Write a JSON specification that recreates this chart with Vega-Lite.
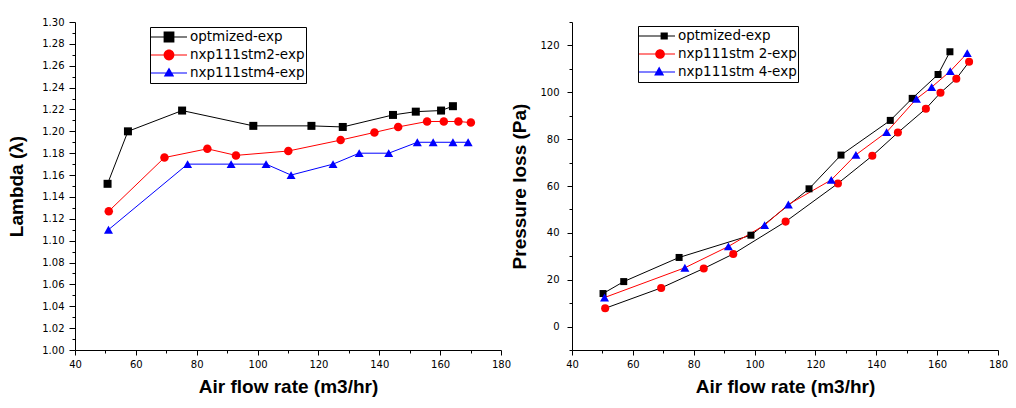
{
  "$schema": "https://vega.github.io/schema/vega-lite/v6.json",
  "padding": {"left": 7, "top": 17, "right": 5, "bottom": 5},
  "spacing": 71,
  "bounds": "flush",
  "datasets": {
    "lambda": [
      {"series": "optmized-exp", "x": 50.7, "y": 1.152},
      {"series": "optmized-exp", "x": 57.4, "y": 1.200},
      {"series": "optmized-exp", "x": 75.2, "y": 1.219},
      {"series": "optmized-exp", "x": 98.6, "y": 1.205},
      {"series": "optmized-exp", "x": 117.7, "y": 1.205},
      {"series": "optmized-exp", "x": 128.0, "y": 1.204},
      {"series": "optmized-exp", "x": 144.5, "y": 1.215},
      {"series": "optmized-exp", "x": 152.0, "y": 1.218},
      {"series": "optmized-exp", "x": 160.3, "y": 1.219},
      {"series": "optmized-exp", "x": 164.2, "y": 1.223},
      {"series": "nxp111stm2-exp", "x": 51.1, "y": 1.127},
      {"series": "nxp111stm2-exp", "x": 69.4, "y": 1.176},
      {"series": "nxp111stm2-exp", "x": 83.5, "y": 1.184},
      {"series": "nxp111stm2-exp", "x": 92.9, "y": 1.178},
      {"series": "nxp111stm2-exp", "x": 110.1, "y": 1.182},
      {"series": "nxp111stm2-exp", "x": 127.3, "y": 1.192},
      {"series": "nxp111stm2-exp", "x": 138.4, "y": 1.199},
      {"series": "nxp111stm2-exp", "x": 146.2, "y": 1.204},
      {"series": "nxp111stm2-exp", "x": 155.7, "y": 1.209},
      {"series": "nxp111stm2-exp", "x": 161.2, "y": 1.209},
      {"series": "nxp111stm2-exp", "x": 166.0, "y": 1.209},
      {"series": "nxp111stm2-exp", "x": 170.1, "y": 1.208},
      {"series": "nxp111stm4-exp", "x": 51.0, "y": 1.110},
      {"series": "nxp111stm4-exp", "x": 77.0, "y": 1.170},
      {"series": "nxp111stm4-exp", "x": 91.3, "y": 1.170},
      {"series": "nxp111stm4-exp", "x": 102.8, "y": 1.170},
      {"series": "nxp111stm4-exp", "x": 111.0, "y": 1.160},
      {"series": "nxp111stm4-exp", "x": 124.8, "y": 1.170},
      {"series": "nxp111stm4-exp", "x": 133.4, "y": 1.180},
      {"series": "nxp111stm4-exp", "x": 143.1, "y": 1.180},
      {"series": "nxp111stm4-exp", "x": 152.5, "y": 1.190},
      {"series": "nxp111stm4-exp", "x": 157.7, "y": 1.190},
      {"series": "nxp111stm4-exp", "x": 164.2, "y": 1.190},
      {"series": "nxp111stm4-exp", "x": 169.2, "y": 1.190}
    ],
    "pressure": [
      {"series": "optmized-exp", "x": 50.2, "y": 14.1},
      {"series": "optmized-exp", "x": 57.0, "y": 19.2},
      {"series": "optmized-exp", "x": 75.2, "y": 29.5},
      {"series": "optmized-exp", "x": 98.8, "y": 39.0},
      {"series": "optmized-exp", "x": 117.9, "y": 58.8},
      {"series": "optmized-exp", "x": 128.4, "y": 73.2},
      {"series": "optmized-exp", "x": 144.6, "y": 88.0},
      {"series": "optmized-exp", "x": 151.8, "y": 97.4},
      {"series": "optmized-exp", "x": 160.3, "y": 107.6},
      {"series": "optmized-exp", "x": 164.2, "y": 117.3},
      {"series": "nxp111stm 2-exp", "x": 50.9, "y": 7.8},
      {"series": "nxp111stm 2-exp", "x": 69.3, "y": 16.5},
      {"series": "nxp111stm 2-exp", "x": 83.3, "y": 24.8},
      {"series": "nxp111stm 2-exp", "x": 93.0, "y": 31.0},
      {"series": "nxp111stm 2-exp", "x": 110.2, "y": 44.8},
      {"series": "nxp111stm 2-exp", "x": 127.4, "y": 61.1},
      {"series": "nxp111stm 2-exp", "x": 138.7, "y": 72.9},
      {"series": "nxp111stm 2-exp", "x": 147.1, "y": 82.8},
      {"series": "nxp111stm 2-exp", "x": 156.3, "y": 93.0},
      {"series": "nxp111stm 2-exp", "x": 161.1, "y": 99.8},
      {"series": "nxp111stm 2-exp", "x": 166.3, "y": 105.8},
      {"series": "nxp111stm 2-exp", "x": 170.5, "y": 113.0},
      {"series": "nxp111stm 4-exp", "x": 50.7, "y": 12.4},
      {"series": "nxp111stm 4-exp", "x": 77.1, "y": 25.1},
      {"series": "nxp111stm 4-exp", "x": 91.4, "y": 34.2},
      {"series": "nxp111stm 4-exp", "x": 103.3, "y": 43.3},
      {"series": "nxp111stm 4-exp", "x": 111.1, "y": 52.1},
      {"series": "nxp111stm 4-exp", "x": 125.2, "y": 62.6},
      {"series": "nxp111stm 4-exp", "x": 133.3, "y": 73.3},
      {"series": "nxp111stm 4-exp", "x": 143.4, "y": 83.0},
      {"series": "nxp111stm 4-exp", "x": 153.2, "y": 97.2},
      {"series": "nxp111stm 4-exp", "x": 158.2, "y": 102.2},
      {"series": "nxp111stm 4-exp", "x": 164.3, "y": 109.0},
      {"series": "nxp111stm 4-exp", "x": 169.9, "y": 116.7}
    ]
  },
  "hconcat": [
    {
      "width": 426,
      "height": 328,
      "data": {"name": "lambda"},
      "encoding": {
        "x": {"field": "x", "type": "quantitative",
          "scale": {"domain": [40, 180], "nice": false, "zero": false},
          "axis": {"title": "Air flow rate (m3/hr)",
            "values": [40, 50, 60, 70, 80, 90, 100, 110, 120, 130, 140, 150, 160, 170, 180],
            "labelExpr": "datum.value % 20 == 0 ? datum.label : ''",
            "tickSize": {"condition": {"test": "datum.value % 20 == 0", "value": 5}, "value": 3},
            "labelPadding": 4, "titlePadding": 8, "labelOverlap": false, "labelFlush": false}},
        "y": {"field": "y", "type": "quantitative",
          "scale": {"domain": [1.0, 1.3], "nice": false, "zero": false},
          "axis": {"title": "Lambda (λ)", "format": ".2f",
            "values": [1.00, 1.01, 1.02, 1.03, 1.04, 1.05, 1.06, 1.07, 1.08, 1.09, 1.10, 1.11, 1.12, 1.13, 1.14, 1.15, 1.16, 1.17, 1.18, 1.19, 1.20, 1.21, 1.22, 1.23, 1.24, 1.25, 1.26, 1.27, 1.28, 1.29, 1.30],
            "labelExpr": "round(datum.value*100) % 2 == 0 ? datum.label : ''",
            "tickSize": {"condition": {"test": "round(datum.value*100) % 2 == 0", "value": 6}, "value": 3},
            "labelPadding": 5, "titlePadding": 15, "labelOverlap": false, "labelFlush": false}}
      },
      "layer": [
        {
          "mark": {"type": "line", "strokeWidth": 1},
          "encoding": {
            "stroke": {"field": "series", "type": "nominal",
              "scale": {"domain": ["optmized-exp", "nxp111stm2-exp", "nxp111stm4-exp"], "range": ["#000000", "#ff0000", "#0000ff"]},
              "legend": null}
          }
        },
        {
          "mark": {"type": "point", "filled": true, "opacity": 1, "strokeWidth": 0},
          "encoding": {
            "fill": {"field": "series", "type": "nominal",
              "scale": {"domain": ["optmized-exp", "nxp111stm2-exp", "nxp111stm4-exp"], "range": ["#000000", "#ff0000", "#0000ff"]},
              "legend": null},
            "shape": {"field": "series", "type": "nominal",
              "scale": {"domain": ["optmized-exp", "nxp111stm2-exp", "nxp111stm4-exp"], "range": ["square", "circle", "triangle-up"]},
              "legend": null},
            "size": {"field": "series", "type": "nominal",
              "scale": {"domain": ["optmized-exp", "nxp111stm2-exp", "nxp111stm4-exp"], "range": [64, 81, 100]},
              "legend": null}
          }
        },
        {
          "mark": {"type": "point", "filled": true, "opacity": 0, "strokeWidth": 0},
          "encoding": {
            "fill": {"field": "series", "type": "nominal",
              "scale": {"domain": ["optmized-exp", "nxp111stm2-exp", "nxp111stm4-exp"], "range": ["#000000", "#ff0000", "#0000ff"]},
              "legend": {"title": null, "orient": "none", "legendX": 75, "legendY": 5, "padding": 1, "strokeColor": "#000000", "clipHeight": 18, "rowPadding": 0, "labelOffset": 3, "labelFont": "DejaVu Sans", "labelFontSize": 13.5, "labelColor": "#000000", "symbolSize": 1296, "symbolOpacity": 1, "symbolStrokeWidth": 0}},
            "shape": {"field": "series", "type": "nominal",
              "scale": {"domain": ["optmized-exp", "nxp111stm2-exp", "nxp111stm4-exp"],
                "range": [
                  "M -1 -0.033 H 1 V 0.033 H -1 Z M -0.3 -0.3 H 0.3 V 0.3 H -0.3 Z",
                  "M -1 -0.033 H 1 V 0.033 H -1 Z M -0.3 0 A 0.3 0.3 0 1 1 0.3 0 A 0.3 0.3 0 1 1 -0.3 0 Z",
                  "M -1 -0.033 H 1 V 0.033 H -1 Z M 0 -0.3 L 0.29 0.2 L -0.29 0.2 Z"
                ]},
              "legend": {"title": null, "orient": "none", "legendX": 75, "legendY": 5, "padding": 1, "strokeColor": "#000000", "clipHeight": 18, "rowPadding": 0, "labelOffset": 3, "labelFont": "DejaVu Sans", "labelFontSize": 13.5, "labelColor": "#000000", "symbolSize": 1296, "symbolOpacity": 1, "symbolStrokeWidth": 0}}
          }
        }
      ],
      "resolve": {"scale": {"shape": "independent", "fill": "independent", "size": "independent"}}
    },
    {
      "width": 426,
      "height": 328,
      "data": {"name": "pressure"},
      "encoding": {
        "x": {"field": "x", "type": "quantitative",
          "scale": {"domain": [40, 180], "nice": false, "zero": false},
          "axis": {"title": "Air flow rate (m3/hr)",
            "values": [40, 50, 60, 70, 80, 90, 100, 110, 120, 130, 140, 150, 160, 170, 180],
            "labelExpr": "datum.value % 20 == 0 ? datum.label : ''",
            "tickSize": {"condition": {"test": "datum.value % 20 == 0", "value": 5}, "value": 3},
            "labelPadding": 4, "titlePadding": 8, "labelOverlap": false, "labelFlush": false}},
        "y": {"field": "y", "type": "quantitative",
          "scale": {"domain": [-10, 130], "nice": false, "zero": false},
          "axis": {"title": "Pressure loss (Pa)",
            "values": [-10, 0, 10, 20, 30, 40, 50, 60, 70, 80, 90, 100, 110, 120, 130],
            "labelExpr": "datum.value % 20 == 0 ? datum.label : ''",
            "tickSize": {"condition": {"test": "datum.value % 20 == 0", "value": 5}, "value": 3},
            "labelPadding": 8, "titlePadding": 10, "labelOverlap": false, "labelFlush": false}}
      },
      "layer": [
        {
          "mark": {"type": "line", "strokeWidth": 1},
          "encoding": {
            "stroke": {"field": "series", "type": "nominal",
              "scale": {"domain": ["optmized-exp", "nxp111stm 2-exp", "nxp111stm 4-exp"], "range": ["#000000", "#ff0000", "#0000ff"]},
              "legend": null}
          }
        },
        {
          "mark": {"type": "point", "filled": true, "opacity": 1, "strokeWidth": 0},
          "encoding": {
            "fill": {"field": "series", "type": "nominal",
              "scale": {"domain": ["optmized-exp", "nxp111stm 2-exp", "nxp111stm 4-exp"], "range": ["#000000", "#ff0000", "#0000ff"]},
              "legend": null},
            "shape": {"field": "series", "type": "nominal",
              "scale": {"domain": ["optmized-exp", "nxp111stm 2-exp", "nxp111stm 4-exp"], "range": ["square", "circle", "triangle-up"]},
              "legend": null},
            "size": {"field": "series", "type": "nominal",
              "scale": {"domain": ["optmized-exp", "nxp111stm 2-exp", "nxp111stm 4-exp"], "range": [49, 81, 100]},
              "legend": null}
          }
        },
        {
          "mark": {"type": "point", "filled": true, "opacity": 0, "strokeWidth": 0},
          "encoding": {
            "fill": {"field": "series", "type": "nominal",
              "scale": {"domain": ["optmized-exp", "nxp111stm 2-exp", "nxp111stm 4-exp"], "range": ["#000000", "#ff0000", "#0000ff"]},
              "legend": {"title": null, "orient": "none", "legendX": 66, "legendY": 4, "padding": 1, "strokeColor": "#000000", "clipHeight": 18, "rowPadding": 0, "labelOffset": 3, "labelFont": "DejaVu Sans", "labelFontSize": 13.5, "labelColor": "#000000", "symbolSize": 1296, "symbolOpacity": 1, "symbolStrokeWidth": 0}},
            "shape": {"field": "series", "type": "nominal",
              "scale": {"domain": ["optmized-exp", "nxp111stm 2-exp", "nxp111stm 4-exp"],
                "range": [
                  "M -1 -0.033 H 1 V 0.033 H -1 Z M 0.2 -0.2 H 0.6 V 0.2 H 0.2 Z",
                  "M -1 -0.033 H 1 V 0.033 H -1 Z M -0.1 0 A 0.27 0.27 0 1 1 0.44 0 A 0.27 0.27 0 1 1 -0.1 0 Z",
                  "M -1 -0.033 H 1 V 0.033 H -1 Z M 0.12 -0.3 L 0.4 0.2 L -0.16 0.2 Z"
                ]},
              "legend": {"title": null, "orient": "none", "legendX": 66, "legendY": 4, "padding": 1, "strokeColor": "#000000", "clipHeight": 18, "rowPadding": 0, "labelOffset": 3, "labelFont": "DejaVu Sans", "labelFontSize": 13.5, "labelColor": "#000000", "symbolSize": 1296, "symbolOpacity": 1, "symbolStrokeWidth": 0}}
          }
        }
      ],
      "resolve": {"scale": {"shape": "independent", "fill": "independent", "size": "independent"}}
    }
  ],
  "config": {
    "view": {"stroke": null},
    "axis": {"grid": false, "domainColor": "#000000", "tickColor": "#000000", "labelColor": "#000000", "titleColor": "#000000",
      "labelFont": "DejaVu Sans", "labelFontSize": 10, "titleFont": "Liberation Sans", "titleFontSize": 19, "titleFontWeight": "bold",
      "domainWidth": 1, "tickWidth": 1}
  }
}
